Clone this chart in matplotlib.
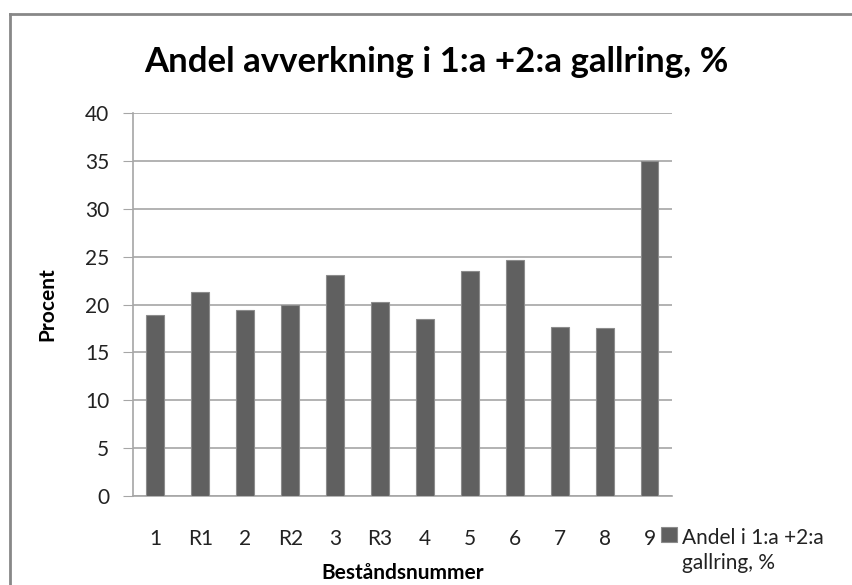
import matplotlib
matplotlib.use('Agg')
import matplotlib.pyplot as plt
from matplotlib.lines import Line2D
from matplotlib.patches import Rectangle
from matplotlib.legend_handler import HandlerPatch
import numpy as np

plt.rcParams['font.family'] = ['Lato', 'DejaVu Sans']

# Data
bestand = ['1', 'R1', '2', 'R2', '3', 'R3', '4', '5', '6', '7', '8', '9']
andel = [18.9, 21.3, 19.4, 20.0, 23.1, 20.3, 18.5, 23.5, 24.7, 17.7, 17.6, 35.0]
serie_namn = 'Andel i 1:a +2:a\ngallring, %'

fig = plt.figure(figsize=(8.52, 5.85), dpi=100)
ax = fig.add_axes([0.1561, 0.1521, 0.6326, 0.6547])

x = np.arange(len(bestand))
bars = ax.bar(x, andel, width=0.4, color='#606060', edgecolor='#8c8c8c', linewidth=0.8,
              label=serie_namn, zorder=3)

ax.set_xlim(-0.5, len(bestand) - 0.5)
ax.set_ylim(0, 40)
ax.set_yticks(range(0, 41, 5))
ax.set_xticks(x)
ax.set_xticklabels(bestand)
ax.yaxis.grid(True, color='#a6a6a6', linewidth=1.2, zorder=0)
ax.set_axisbelow(True)

for s in ['top', 'right']:
    ax.spines[s].set_visible(False)
ax.spines['left'].set_color('#a6a6a6')
ax.spines['bottom'].set_color('#a6a6a6')
ax.spines['left'].set_linewidth(1.2)
ax.spines['bottom'].set_linewidth(1.2)
ax.tick_params(axis='y', length=7, color='#a6a6a6', labelsize=15, pad=10, labelcolor='#222222')
ax.tick_params(axis='x', length=0, labelsize=15, pad=24, labelcolor='#222222')

ax.set_ylabel('Procent', fontsize=15, fontweight='bold', labelpad=20)
ax.set_xlabel('Beståndsnummer', fontsize=15, fontweight='bold', labelpad=10)

fig.text(0.512, 0.894, 'Andel avverkning i 1:a +2:a gallring, %', fontsize=25,
         fontweight='bold', ha='center', va='center')


# legend square sits beside the first line of the label, as in the original
def upper_square(legend, orig_handle, xdescent, ydescent, width, height, fontsize):
    return Rectangle((-xdescent, -ydescent + fontsize * 0.8), width, height)


h = bars.patches[0]
leg = fig.legend(handles=[h], labels=[serie_namn], loc='upper left',
                 bbox_to_anchor=(661 / 852, 1 - 528 / 585),
                 frameon=False, fontsize=15, handlelength=0.75, handleheight=0.75,
                 handletextpad=0.28, borderpad=0.0, borderaxespad=0.0,
                 handler_map={h: HandlerPatch(patch_func=upper_square)})
txt = leg.get_texts()[0]
txt.set_linespacing(1.3)
txt.set_color('#222222')

# outer chart frame
fig.add_artist(Line2D([0.012, 1.0], [0.976, 0.976], color='#888888', linewidth=2))
fig.add_artist(Line2D([0.012, 0.012], [0.0, 0.976], color='#888888', linewidth=2))

fig.savefig('out.png', dpi=100)
